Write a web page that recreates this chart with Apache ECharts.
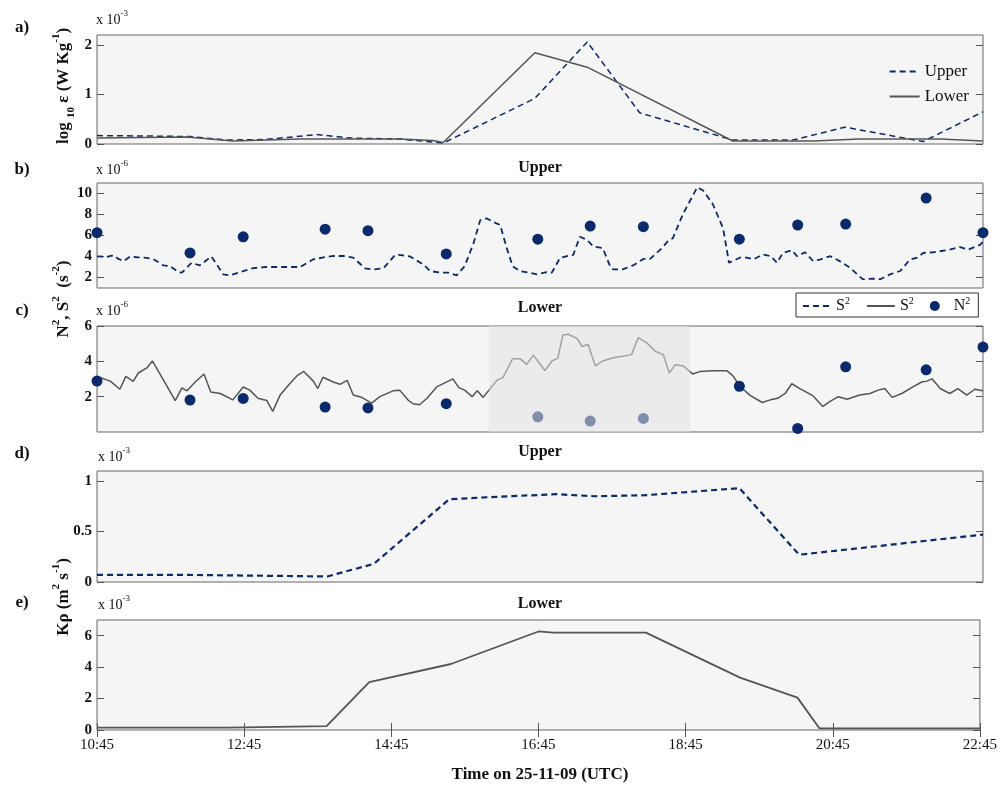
<!DOCTYPE html>
<html>
<head>
<meta charset="utf-8">
<script src="https://cdn.jsdelivr.net/npm/echarts@6/dist/echarts.min.js"></script>
<style>
html, body { margin: 0; padding: 0; background: #fff; }
#container { width: 1000px; height: 786px; }
</style>
</head>
<body>
<div id="container"></div>
<script>
var dom = document.getElementById('container');
var myChart = echarts.init(dom, null, {renderer: 'canvas'});

// time is given in decimal hours (UTC) on 25-11-09
var xTicks = [10.75, 12.75, 14.75, 16.75, 18.75, 20.75, 22.75];

// a) dissipation rate, x 10^-3
var epsUpperT = [10.75, 11.47, 12.01, 12.51, 13.02, 13.73, 14.18, 14.85, 15.44, 16.68, 17.39, 18.10, 19.36, 20.18, 20.88, 21.94, 22.75];
var epsUpperV = [0.17, 0.16, 0.15, 0.08, 0.09, 0.19, 0.12, 0.10, 0.02, 0.92, 2.06, 0.63, 0.08, 0.08, 0.34, 0.05, 0.65];
var epsLowerT = [10.75, 11.97, 12.59, 13.5, 14.85, 15.3, 15.44, 16.68, 17.39, 19.36, 20.45, 21.08, 22.17, 22.75];
var epsLowerV = [0.12, 0.14, 0.06, 0.10, 0.10, 0.07, 0.03, 1.84, 1.55, 0.06, 0.06, 0.10, 0.10, 0.06];

// b) upper S^2 and c) lower S^2, x 10^-6
var s2UpperT = [10.75, 10.88, 10.97, 11.04, 11.11, 11.2, 11.29, 11.42, 11.51, 11.65, 11.74, 11.85, 11.9, 12.03, 12.14, 12.3, 12.46, 12.55, 12.69, 12.87,
  13.05, 13.27, 13.5, 13.68, 13.82, 13.95, 14.09, 14.22, 14.38, 14.49, 14.63, 14.79, 14.85, 14.99, 15.17, 15.26, 15.4, 15.51, 15.62, 15.73,
  15.85, 15.94, 16.03, 16.16, 16.21, 16.3, 16.38, 16.48, 16.61, 16.71, 16.84, 16.91, 17.02, 17.13, 17.2, 17.29, 17.39, 17.47, 17.6, 17.7,
  17.74, 17.87, 18.01, 18.15, 18.24, 18.38, 18.48, 18.55, 18.69, 18.88, 18.96, 19.09, 19.23, 19.31, 19.46, 19.55, 19.64, 19.77, 19.87, 19.96,
  20.04, 20.16, 20.23, 20.34, 20.45, 20.54, 20.68, 20.81, 20.95, 21.12, 21.25, 21.36, 21.49, 21.63, 21.76, 21.86, 21.94, 22.07, 22.26, 22.44,
  22.55, 22.6, 22.71, 22.75];
var s2UpperV = [4.02, 3.96, 4.11, 3.77, 3.55, 4.0, 3.93, 3.87, 3.77, 3.15, 3.09, 2.52, 2.46, 3.4, 3.15, 4.0, 2.29, 2.2, 2.52, 2.9,
  3.0, 3.0, 3.0, 3.73, 3.92, 4.05, 4.05, 3.9, 2.87, 2.77, 2.87, 4.16, 4.16, 4.0, 3.24, 2.62, 2.46, 2.46, 2.2, 3.08,
  5.27, 7.46, 7.62, 7.15, 7.0, 4.8, 3.06, 2.6, 2.46, 2.3, 2.52, 2.46, 3.85, 4.07, 4.16, 5.88, 5.57, 4.96, 4.8, 3.06,
  2.77, 2.77, 3.15, 3.77, 3.77, 4.65, 5.44, 5.75, 8.1, 10.59, 10.28, 9.0, 6.68, 3.4, 3.9, 3.9, 3.72, 4.2, 4.05, 3.4,
  4.34, 4.6, 4.03, 4.4, 3.56, 3.71, 4.03, 3.56, 2.93, 1.84, 1.9, 1.84, 2.3, 2.62, 3.71, 3.9, 4.34, 4.4, 4.6, 4.9,
  4.65, 4.8, 5.1, 5.4];

var s2LowerT = [10.75, 10.93, 11.06, 11.14, 11.24, 11.31, 11.43, 11.5, 11.6, 11.81, 11.9, 11.97, 12.08, 12.2, 12.29, 12.42, 12.59, 12.73, 12.82, 12.93,
  13.05, 13.13, 13.23, 13.36, 13.46, 13.55, 13.68, 13.74, 13.81, 13.95, 14.04, 14.14, 14.22, 14.34, 14.47, 14.58, 14.76, 14.85, 14.96, 15.03,
  15.12, 15.22, 15.35, 15.42, 15.57, 15.65, 15.73, 15.83, 15.9, 15.98, 16.17, 16.25, 16.38, 16.48, 16.57, 16.66, 16.82, 16.91, 16.99, 17.06,
  17.13, 17.25, 17.32, 17.4, 17.5, 17.6, 17.74, 17.87, 17.99, 18.08, 18.2, 18.31, 18.42, 18.5, 18.58, 18.69, 18.82, 18.92, 19.09, 19.28,
  19.36, 19.46, 19.59, 19.76, 19.87, 19.97, 20.07, 20.16, 20.27, 20.45, 20.58, 20.68, 20.79, 20.91, 21.08, 21.22, 21.33, 21.42, 21.52, 21.65,
  21.8, 21.92, 21.99, 22.06, 22.17, 22.3, 22.41, 22.53, 22.64, 22.75];
var s2LowerV = [3.14, 2.88, 2.42, 3.15, 2.86, 3.34, 3.65, 4.02, 3.3, 1.78, 2.5, 2.33, 2.83, 3.28, 2.27, 2.18, 1.82, 2.55, 2.37, 1.91,
  1.78, 1.17, 2.09, 2.73, 3.19, 3.43, 2.88, 2.46, 3.1, 2.83, 2.7, 2.92, 2.09, 1.95, 1.63, 2.0, 2.33, 2.37, 1.82, 1.6,
  1.54, 1.91, 2.55, 2.7, 3.01, 2.51, 2.37, 2.0, 2.33, 1.96, 2.94, 3.09, 4.15, 4.15, 3.83, 4.35, 3.47, 4.02, 4.17, 5.49,
  5.53, 5.3, 4.84, 4.97, 3.74, 4.02, 4.2, 4.29, 4.38, 5.34, 5.03, 4.57, 4.38, 3.34, 3.8, 3.74, 3.28, 3.43, 3.47, 3.47,
  3.19, 2.59, 2.09, 1.67, 1.82, 1.91, 2.18, 2.73, 2.46, 2.04, 1.45, 1.73, 2.0, 1.85, 2.09, 2.18, 2.37, 2.46, 1.96, 2.18,
  2.55, 2.83, 2.88, 3.01, 2.46, 2.18, 2.46, 2.09, 2.42, 2.33];

// N^2 samples, x 10^-6
var n2T = [10.75, 12.01, 12.73, 13.84, 14.42, 15.48, 16.72, 17.43, 18.15, 19.45, 20.24, 20.89, 21.98, 22.75];
var n2Upper = [6.27, 4.34, 5.87, 6.6, 6.46, 4.24, 5.65, 6.9, 6.84, 5.65, 7.0, 7.09, 9.56, 6.27];
var n2Lower = [2.88, 1.81, 1.9, 1.41, 1.36, 1.6, 0.86, 0.62, 0.77, 2.59, 0.2, 3.69, 3.52, 4.81];

// shaded period in panel c
var shadeRange = [16.06, 18.78];

// d) and e) diffusivity, x 10^-3
var kUpperT = [10.75, 12.0, 13.87, 14.5, 15.52, 16.03, 16.97, 17.5, 18.17, 19.45, 20.26, 22.75];
var kUpperV = [0.07, 0.07, 0.055, 0.18, 0.82, 0.84, 0.87, 0.85, 0.86, 0.93, 0.27, 0.47];
var kLowerT = [10.75, 12.53, 12.55, 13.87, 14.45, 15.56, 16.75, 16.95, 18.21, 19.49, 20.27, 20.57, 22.75];
var kLowerV = [0.15, 0.15, 0.25, 0.25, 3.05, 4.2, 6.27, 6.2, 6.2, 3.33, 2.06, 0.1, 0.1];

// y axis ranges and tick labels for panels a-e
var yMin = [0, 1, 0, 0, 0];
var yMax = [2.2, 11, 6, 1.1, 7];
var yTicks = [[0, 1, 2], [2, 4, 6, 8, 10], [2, 4, 6], [0, 0.5, 1], [0, 2, 4, 6]];

var serif = '"Liberation Serif", "DejaVu Serif", serif';
var navy = '#0b2a6b';
var grey = '#555555';
var gridTops = [35, 183, 326, 471, 620];
var gridHeights = [109, 105, 106, 111, 110];

function zip(t, v) {
    var res = [];
    for (var i = 0; i < t.length; i++) res.push([t[i], v[i]]);
    return res;
}
function hhmm(v) {
    var h = Math.floor(v);
    var m = Math.round((v - h) * 60);
    return h + ':' + (m < 10 ? '0' + m : m);
}

var grids = [], xAxes = [], yAxes = [];
for (var i = 0; i < 5; i++) {
    grids.push({
        left: 97, right: 17, top: gridTops[i], height: gridHeights[i],
        show: true, backgroundColor: '#f5f5f5', borderColor: '#666', borderWidth: 1
    });
    var last = i === 4;
    xAxes.push({
        gridIndex: i, type: 'value', min: 10.75, max: 22.75,
        axisLine: {show: false},
        axisTick: {show: last, inside: true, length: 7, customValues: xTicks, lineStyle: {color: '#555'}},
        axisLabel: {show: last, customValues: xTicks, formatter: hhmm, margin: 8,
            fontFamily: serif, fontSize: 15, color: '#111'},
        splitLine: {show: false}
    });
    ['left', 'right'].forEach(function (pos) {
        yAxes.push({
            gridIndex: i, type: 'value', position: pos, min: yMin[i], max: yMax[i],
            axisLine: {show: false},
            axisTick: {show: true, inside: true, length: 7, customValues: yTicks[i], lineStyle: {color: '#555'}},
            axisLabel: {show: pos === 'left', customValues: yTicks[i], margin: 5,
                fontFamily: serif, fontWeight: 'bold', fontSize: 15, color: '#111'},
            splitLine: {show: false}
        });
    });
}
// top ticks of panel e
xAxes.push({
    gridIndex: 4, type: 'value', position: 'top', min: 10.75, max: 22.75,
    axisLine: {show: false},
    axisTick: {show: true, inside: true, length: 7, customValues: xTicks, lineStyle: {color: '#555'}},
    axisLabel: {show: false}, splitLine: {show: false}
});

var supRich = {
    n: {fontFamily: serif, fontWeight: 'bold', fontSize: 17, lineHeight: 26, verticalAlign: 'middle', fill: '#111', color: '#111'},
    sup: {fontFamily: serif, fontWeight: 'bold', fontSize: 11, verticalAlign: 'top', fill: '#111', color: '#111'},
    sub: {fontFamily: serif, fontWeight: 'bold', fontSize: 11, verticalAlign: 'bottom', fill: '#111', color: '#111'}
};
var expRich = {
    n: {fontFamily: serif, fontSize: 14, lineHeight: 22, verticalAlign: 'middle', fill: '#111'},
    sup: {fontFamily: serif, fontSize: 9, verticalAlign: 'top', fill: '#111'}
};

function plainText(x, y, text, size, weight) {
    return {
        type: 'text', x: x, y: y, silent: true,
        style: {text: text, font: (weight || 'bold') + ' ' + size + 'px ' + serif,
            fill: '#111', align: 'center', verticalAlign: 'middle'}
    };
}
function expText(x, y, e) {
    return {
        type: 'text', x: x, y: y, silent: true,
        style: {text: '{n|x 10}{sup|' + e + '}', rich: expRich, align: 'left', verticalAlign: 'middle'}
    };
}
function yName(x, y, text) {
    return {
        type: 'text', x: x, y: y, rotation: Math.PI / 2, silent: true,
        style: {text: text, rich: supRich, align: 'center', verticalAlign: 'middle'}
    };
}

var graphics = [
    plainText(22, 28, 'a)', 17), plainText(22, 170, 'b)', 17), plainText(22, 311, 'c)', 17),
    plainText(22, 454, 'd)', 17), plainText(22, 603, 'e)', 17),
    plainText(540, 168, 'Upper', 16), plainText(540, 308, 'Lower', 16),
    plainText(540, 452, 'Upper', 16), plainText(540, 604, 'Lower', 16),
    plainText(540, 775, 'Time on 25-11-09 (UTC)', 17),
    expText(96, 20, '-3'), expText(96, 170, '-6'), expText(96, 311, '-6'),
    expText(98, 457, '-3'), expText(98, 605, '-3'),
    yName(64, 86, '{n|log }{sub|10}{n| ε (W Kg}{sup|-1}{n|)}'),
    yName(64, 299, '{n|N}{sup|2}{n|, S}{sup|2}{n|  (s}{sup|-2}{n|)}'),
    yName(64, 597, '{n|Kρ (m}{sup|2}{n| s}{sup|-1}{n|)}')
];

function lineSeries(name, idx, t, v, color, dashed, width) {
    return {
        name: name, type: 'line', xAxisIndex: idx, yAxisIndex: idx * 2,
        data: zip(t, v), symbol: 'none', showSymbol: false,
        lineStyle: {color: color, width: width || 1.5, type: dashed ? [6, 4] : 'solid'},
        itemStyle: {color: color}, z: 3
    };
}
function dotSeries(idx, t, v) {
    return {
        name: 'N2', type: 'scatter', xAxisIndex: idx, yAxisIndex: idx * 2,
        data: zip(t, v), symbol: 'circle', symbolSize: 11, clip: false,
        itemStyle: {color: navy, opacity: 1}, z: 4
    };
}

var noSymbol = {opacity: 0};

option = {
    animation: false,
    backgroundColor: '#ffffff',
    grid: grids,
    xAxis: xAxes,
    yAxis: yAxes,
    graphic: graphics,
    legend: [{
        data: [{name: 'Upper', itemStyle: noSymbol}, {name: 'Lower', itemStyle: noSymbol}],
        orient: 'vertical', right: 26, top: 58, itemGap: 8,
        itemWidth: 30, itemHeight: 10,
        textStyle: {fontFamily: serif, fontSize: 17, color: '#111'}
    }, {
        data: [{name: 'S2u', itemStyle: noSymbol}, {name: 'S2l', itemStyle: noSymbol},
            {name: 'N2', itemStyle: {color: navy, opacity: 1}}],
        orient: 'horizontal', left: 796, top: 293, itemGap: 16,
        itemWidth: 28, itemHeight: 10,
        borderColor: '#333', borderWidth: 1, padding: [3, 8, 3, 6],
        backgroundColor: '#ffffff',
        formatter: function (name) {
            return name === 'N2' ? '{n|N}{sup|2}' : '{n|S}{sup|2}';
        },
        textStyle: {
            fontFamily: serif, fontSize: 16, color: '#111',
            rich: {
                n: {fontFamily: serif, fontSize: 16, lineHeight: 20, verticalAlign: 'middle', color: '#111'},
                sup: {fontFamily: serif, fontSize: 10, verticalAlign: 'top', color: '#111'}
            }
        }
    }],
    series: [
        lineSeries('Upper', 0, epsUpperT, epsUpperV, navy, true, 1.5),
        lineSeries('Lower', 0, epsLowerT, epsLowerV, grey, false, 1.5),
        lineSeries('S2u', 1, s2UpperT, s2UpperV, navy, true, 1.8),
        dotSeries(1, n2T, n2Upper),
        lineSeries('S2l', 2, s2LowerT, s2LowerV, grey, false, 1.5),
        dotSeries(2, n2T, n2Lower),
        {
            name: 'shade', type: 'custom', xAxisIndex: 2, yAxisIndex: 4, z: 10, silent: true,
            data: [shadeRange],
            renderItem: function (params, api) {
                var p0 = api.coord([api.value(0), yMax[2]]);
                var p1 = api.coord([api.value(1), yMin[2]]);
                return {
                    type: 'rect',
                    shape: {x: p0[0], y: p0[1], width: p1[0] - p0[0], height: p1[1] - p0[1]},
                    style: {fill: 'rgba(225,225,225,0.55)'}
                };
            }
        },
        lineSeries('Ku', 3, kUpperT, kUpperV, navy, true, 2.2),
        lineSeries('Kl', 4, kLowerT, kLowerV, grey, false, 1.8)
    ]
};

if (option && typeof option === 'object') {
    myChart.setOption(option, true);
}
</script>
</body>
</html>
